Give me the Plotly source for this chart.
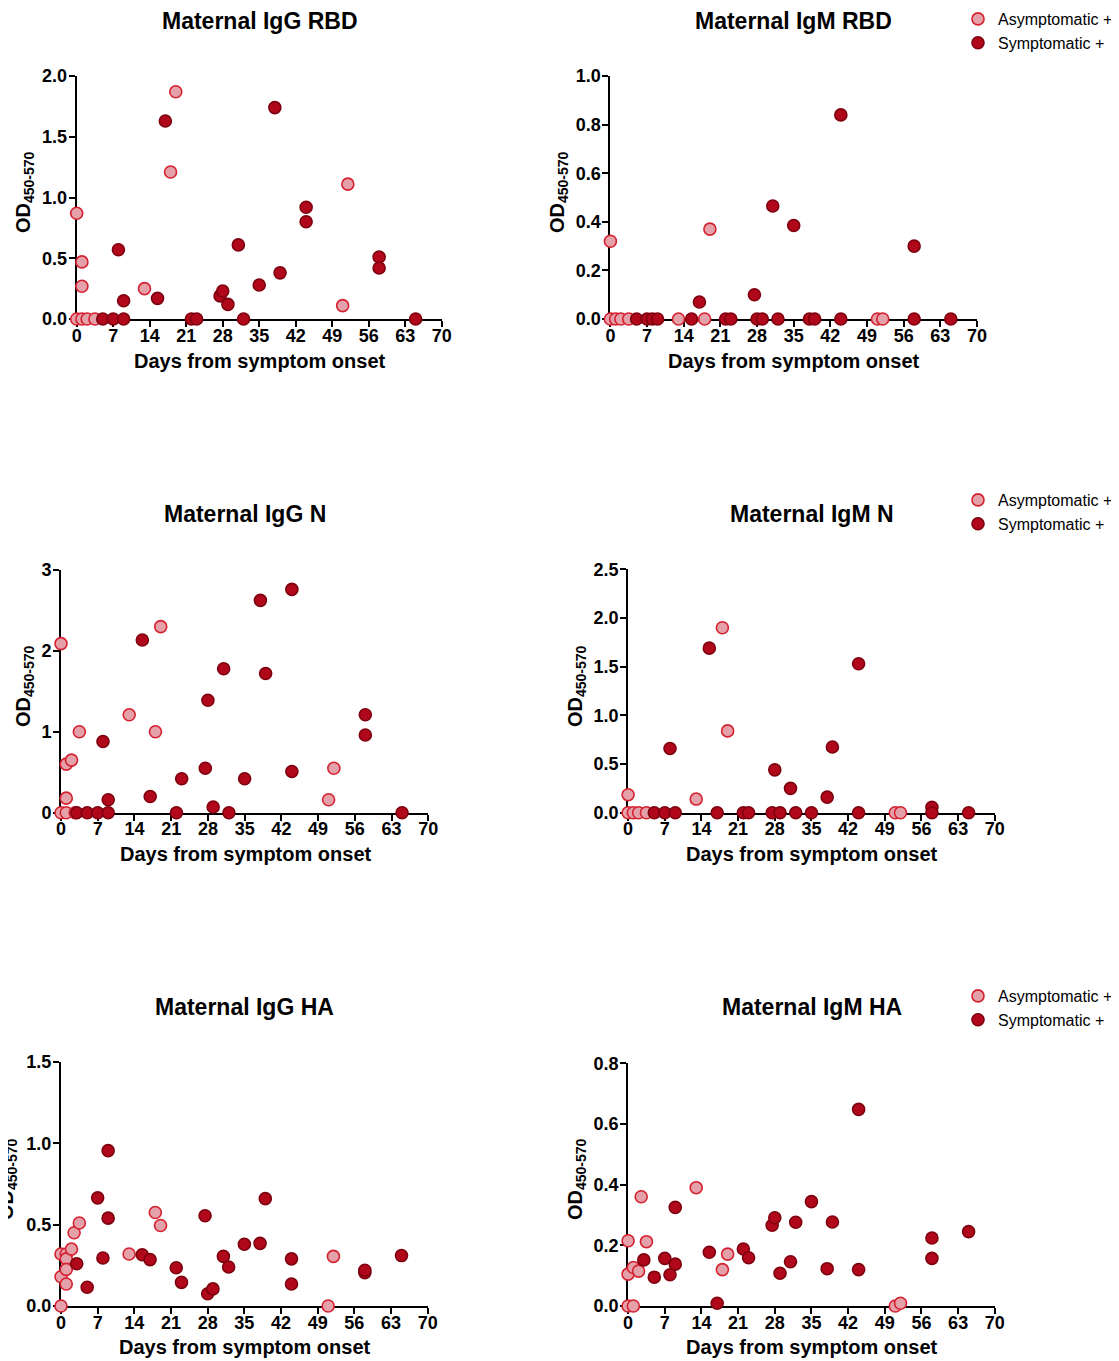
import plotly.graph_objects as go

# ---------------- DATA ----------------
# Maternal IgG RBD
igg_rbd_asym_days = [0, 1, 1, 0, 1, 2, 3.5, 13, 18, 19, 51, 52]
igg_rbd_asym_od = [0.87, 0.47, 0.27, 0, 0, 0, 0, 0.25, 1.21, 1.87, 0.11, 1.11]
igg_rbd_sym_days = [5, 7, 9, 8, 9, 15.5, 17, 22, 23, 27.5, 28, 29, 31, 32, 35, 38, 39, 44, 44, 58, 58, 65]
igg_rbd_sym_od = [0, 0, 0, 0.57, 0.15, 0.17, 1.63, 0, 0, 0.19, 0.23, 0.12, 0.61, 0, 0.28, 1.74, 0.38, 0.92, 0.80, 0.51, 0.42, 0]

# Maternal IgM RBD
igm_rbd_asym_days = [0, 0, 1, 2, 3.5, 13, 18, 19, 51, 52]
igm_rbd_asym_od = [0.32, 0, 0, 0, 0, 0, 0, 0.37, 0, 0]
igm_rbd_sym_days = [5, 7, 8, 9, 15.5, 17, 22, 23, 27.5, 28, 29, 31, 32, 35, 38, 39, 44, 44, 58, 58, 65]
igm_rbd_sym_od = [0, 0, 0, 0, 0, 0.07, 0, 0, 0.10, 0, 0, 0.465, 0, 0.385, 0, 0, 0.84, 0, 0.30, 0, 0]

# Maternal IgG N
igg_n_asym_days = [0, 1, 2, 3.5, 1, 0, 1, 2.7, 13, 18, 19, 51, 52]
igg_n_asym_od = [2.09, 0.60, 0.65, 1.00, 0.18, 0, 0, 0, 1.21, 1.00, 2.30, 0.16, 0.55]
igg_n_sym_days = [3, 5, 7, 9, 8, 9, 15.5, 17, 22, 23, 27.5, 28, 29, 31, 32, 35, 38, 39, 44, 44, 58, 58, 65]
igg_n_sym_od = [0, 0, 0, 0, 0.88, 0.16, 2.135, 0.20, 0, 0.42, 0.55, 1.39, 0.07, 1.78, 0, 0.42, 2.625, 1.72, 2.76, 0.51, 1.21, 0.96, 0]

# Maternal IgM N
igm_n_asym_days = [0, 0, 1, 2, 3.5, 13, 18, 19, 51, 52]
igm_n_asym_od = [0.185, 0, 0, 0, 0, 0.14, 1.90, 0.84, 0, 0]
igm_n_sym_days = [5, 7, 9, 8, 15.5, 17, 22, 23, 27.5, 28, 29, 31, 32, 35, 38, 39, 44, 44, 58, 58, 65]
igm_n_sym_od = [0, 0, 0, 0.66, 1.69, 0, 0, 0, 0, 0.44, 0, 0.25, 0, 0, 0.16, 0.675, 1.53, 0, 0.055, 0, 0]

# Maternal IgG HA
igg_ha_asym_days = [0, 0, 0, 1, 1, 1, 1, 2, 2.5, 3.5, 13, 18, 19, 51, 52]
igg_ha_asym_od = [0, 0.18, 0.32, 0.32, 0.29, 0.225, 0.135, 0.35, 0.45, 0.51, 0.32, 0.575, 0.495, 0, 0.305]
igg_ha_sym_days = [3, 5, 7, 8, 9, 9, 15.5, 17, 22, 23, 27.5, 28, 29, 31, 32, 35, 38, 39, 44, 44, 58, 58, 65]
igg_ha_sym_od = [0.26, 0.115, 0.665, 0.295, 0.955, 0.54, 0.315, 0.285, 0.235, 0.145, 0.555, 0.075, 0.105,
                 0.305, 0.24, 0.38, 0.385, 0.66, 0.29, 0.135, 0.205, 0.22, 0.31]

# Maternal IgM HA
igm_ha_asym_days = [0, 1, 0, 0, 1, 2, 2.5, 3.5, 13, 18, 19, 51, 52]
igm_ha_asym_od = [0, 0, 0.215, 0.105, 0.127, 0.115, 0.36, 0.212, 0.39, 0.12, 0.171, 0, 0.009]
igm_ha_sym_days = [3, 5, 7, 8, 9, 9, 15.5, 17, 22, 23, 27.5, 28, 29, 31, 32, 35, 38, 39, 44, 44, 58, 58, 65]
igm_ha_sym_od = [0.152, 0.095, 0.157, 0.103, 0.138, 0.325, 0.177, 0.009, 0.188, 0.159, 0.266, 0.291, 0.108,
                 0.146, 0.276, 0.344, 0.123, 0.277, 0.648, 0.12, 0.224, 0.157, 0.245]

titles = ["Maternal IgG RBD", "Maternal IgM RBD", "Maternal IgG N",
          "Maternal IgM N", "Maternal IgG HA", "Maternal IgM HA"]
series_names = ["Asymptomatic +", "Symptomatic +"]
x_label = "Days from symptom onset"
y_label = "OD<sub>450-570</sub>"
x_ticks = [0, 7, 14, 21, 28, 35, 42, 49, 56, 63, 70]

# ---------------- LAYOUT / STYLE ----------------
W, H = 1119, 1361
OFF = 8  # page body margin that the browser adds around the figure
FONT = "Liberation Sans"
ASYM_FILL, ASYM_LINE = "#e5a1a9", "#d5202f"
SYM_FILL, SYM_LINE = "#b0081a", "#7e000f"


def fx(px):
    return (px - OFF) / W


def fy(py):
    return 1 - (py - OFF) / H


panels = [
    dict(data=(igg_rbd_asym_days, igg_rbd_asym_od, igg_rbd_sym_days, igg_rbd_sym_od),
         xd=(76.7, 441.7), yd=(76, 319), yr=2.0, dt=0.5, fmt=".1f",
         title=(259.5, 21), xl=(259.5, 361), yl=(24, 192), legend=None),
    dict(data=(igm_rbd_asym_days, igm_rbd_asym_od, igm_rbd_sym_days, igm_rbd_sym_od),
         xd=(610.4, 977), yd=(76, 319), yr=1.0, dt=0.2, fmt=".1f",
         title=(793.7, 21), xl=(794, 361), yl=(558, 192), legend="legend"),
    dict(data=(igg_n_asym_days, igg_n_asym_od, igg_n_sym_days, igg_n_sym_od),
         xd=(61, 428.3), yd=(570, 812.7), yr=3, dt=1, fmt="d",
         title=(244.7, 514), xl=(245.5, 854), yl=(24, 686), legend=None),
    dict(data=(igm_n_asym_days, igm_n_asym_od, igm_n_sym_days, igm_n_sym_od),
         xd=(628.1, 994.8), yd=(569.3, 812.7), yr=2.5, dt=0.5, fmt=".1f",
         title=(812, 514), xl=(812, 854), yl=(576, 686), legend="legend2"),
    dict(data=(igg_ha_asym_days, igg_ha_asym_od, igg_ha_sym_days, igg_ha_sym_od),
         xd=(61, 427.7), yd=(1062, 1306), yr=1.5, dt=0.5, fmt=".1f",
         title=(244.5, 1007), xl=(244.7, 1347), yl=(7, 1179), legend=None),
    dict(data=(igm_ha_asym_days, igm_ha_asym_od, igm_ha_sym_days, igm_ha_sym_od),
         xd=(628.1, 994.8), yd=(1063.3, 1306), yr=0.8, dt=0.2, fmt=".1f",
         title=(812, 1007), xl=(812, 1347), yl=(576, 1179), legend="legend3"),
]

fig = go.Figure()
annotations = []
tickfont = dict(family=FONT, size=18, color="black", weight="bold")

for i, p in enumerate(panels, start=1):
    ax = "" if i == 1 else str(i)
    ad, ao, sd, so = p["data"]
    show = p["legend"] is not None
    for name, xs, ys, fill, line in ((series_names[0], ad, ao, ASYM_FILL, ASYM_LINE),
                                     (series_names[1], sd, so, SYM_FILL, SYM_LINE)):
        fig.add_trace(go.Scatter(
            x=xs, y=ys, mode="markers", name=name,
            xaxis="x" + ax, yaxis="y" + ax,
            marker=dict(size=12, color=fill, line=dict(color=line, width=1.6)),
            cliponaxis=False, showlegend=show,
            legend=p["legend"] if show else None,
        ))
    common = dict(showline=True, linecolor="black", linewidth=2, ticks="outside",
                  ticklen=6, tickwidth=2, tickcolor="black", showgrid=False,
                  zeroline=False, layer="below traces", tickfont=tickfont,
                  automargin=False)
    fig.update_layout(**{
        "xaxis" + ax: dict(domain=[fx(p["xd"][0]), fx(p["xd"][1])], range=[0, 70],
                           tickvals=x_ticks, anchor="y" + ax, ticklabelstandoff=-7, **common),
        "yaxis" + ax: dict(domain=[fy(p["yd"][1]), fy(p["yd"][0])], range=[0, p["yr"]],
                           dtick=p["dt"], tick0=0, tickformat=p["fmt"],
                           anchor="x" + ax, ticklabelstandoff=-2, **common),
    })
    annotations.append(dict(text=titles[i - 1], x=fx(p["title"][0]), y=fy(p["title"][1]),
                            xref="paper", yref="paper", showarrow=False,
                            xanchor="center", yanchor="middle",
                            font=dict(family=FONT, size=23, color="black", weight="bold")))
    annotations.append(dict(text=x_label, x=fx(p["xl"][0]), y=fy(p["xl"][1]),
                            xref="paper", yref="paper", showarrow=False,
                            xanchor="center", yanchor="middle",
                            font=dict(family=FONT, size=20, color="black", weight="bold")))
    annotations.append(dict(text=y_label, x=fx(p["yl"][0]), y=fy(p["yl"][1]),
                            xref="paper", yref="paper", showarrow=False, textangle=-90,
                            xanchor="center", yanchor="middle",
                            font=dict(family=FONT, size=20, color="black", weight="bold")))

legend_style = dict(font=dict(family=FONT, size=16, color="black"), bgcolor="rgba(0,0,0,0)",
                    xanchor="left", yanchor="top", tracegroupgap=0, itemsizing="trace")
fig.update_layout(
    width=W, height=H, margin=dict(l=0, r=0, t=0, b=0, autoexpand=False),
    paper_bgcolor="white", plot_bgcolor="white",
    annotations=annotations,
    legend=dict(x=fx(958), y=fy(2), **legend_style),
    legend2=dict(x=fx(958), y=fy(483), **legend_style),
    legend3=dict(x=fx(958), y=fy(979), **legend_style),
)

fig.write_html("out.html")
